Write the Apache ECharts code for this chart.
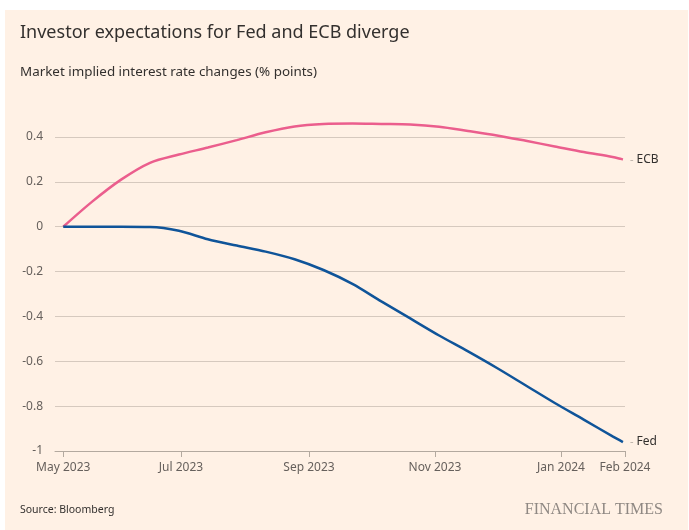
<!DOCTYPE html>
<html>
<head>
<meta charset="utf-8">
<title>Investor expectations for Fed and ECB diverge</title>
<script src="https://cdn.jsdelivr.net/npm/echarts@6/dist/echarts.min.js"></script>
<style>
  html, body { margin: 0; padding: 0; background: #fff; }
  #chart { width: 689px; height: 530px; }
</style>
</head>
<body>
<div id="chart"></div>
<script>
// fortnightly readings, YYYY-MM-DD; values in % points
const dates = ['2023-05-05', '2023-05-19', '2023-06-02', '2023-06-16', '2023-06-30', '2023-07-14',
  '2023-07-28', '2023-08-11', '2023-08-25', '2023-09-08', '2023-09-22', '2023-10-06', '2023-10-20',
  '2023-11-03', '2023-11-17', '2023-12-01', '2023-12-15', '2023-12-29', '2024-01-12', '2024-01-26',
  '2024-01-31'];
const ecbValues = [0, 0.112, 0.21, 0.285, 0.322, 0.353, 0.386, 0.421, 0.447, 0.458, 0.46, 0.458, 0.456,
  0.446, 0.427, 0.407, 0.383, 0.358, 0.333, 0.311, 0.300];
const fedValues = [0, 0, 0, -0.001, -0.018, -0.056, -0.084, -0.111, -0.145, -0.193, -0.255, -0.333, -0.409,
  -0.485, -0.556, -0.63, -0.708, -0.786, -0.86, -0.935, -0.96];

const tickDates = ['2023-05-05', '2023-07-01', '2023-09-01', '2023-11-01', '2024-01-01', '2024-02-01'];
const monthNames = ['Jan', 'Feb', 'Mar', 'Apr', 'May', 'Jun', 'Jul', 'Aug', 'Sep', 'Oct', 'Nov', 'Dec'];

const ts = (s) => {
  const [y, m, d] = s.split('-').map(Number);
  return new Date(y, m - 1, d).getTime();
};

const colors = {
  ecb: '#eb5e8d',
  fed: '#0f5499',
  text: '#33302e',
  axisText: '#66605c',
  grid: '#d6c9be',
  paper: '#fff1e5'
};

const chart = echarts.init(document.getElementById('chart'));

const endLabel = (name) => ({
  show: true,
  distance: 7,
  formatter: '{d|-} ' + name,
  color: colors.text,
  fontSize: 12,
  rich: { d: { color: '#b8aea5', fontSize: 11 } }
});

const option = {
  animation: false,
  backgroundColor: colors.paper,
  textStyle: { fontFamily: 'Noto Sans' },
  title: [
    {
      text: 'Investor expectations for Fed and ECB diverge',
      left: 20, top: 24, padding: 0,
      textStyle: { fontSize: 18, fontWeight: 'normal', color: colors.text, fontFamily: 'Noto Sans' }
    },
    {
      text: 'Market implied interest rate changes (% points)',
      left: 20, top: 66, padding: 0,
      textStyle: { fontSize: 13.4, fontWeight: 'normal', color: colors.text, fontFamily: 'Noto Sans' }
    },
    {
      text: 'Source: Bloomberg',
      left: 20, top: 505, padding: 0,
      textStyle: { fontSize: 10.5, fontWeight: 'normal', color: colors.text, fontFamily: 'Noto Sans' }
    },
    {
      text: 'FINANCIAL TIMES',
      right: 26, top: 502, padding: 0,
      textStyle: { fontSize: 16, fontWeight: 'normal', color: '#8f8883', fontFamily: 'Liberation Serif' }
    }
  ],
  graphic: [
    // white margins around the paper panel
    { type: 'rect', shape: { x: 0, y: 0, width: 689, height: 10 }, style: { fill: '#fff' }, silent: true },
    { type: 'rect', shape: { x: 0, y: 0, width: 5, height: 530 }, style: { fill: '#fff' }, silent: true },
    { type: 'rect', shape: { x: 688, y: 0, width: 1, height: 530 }, style: { fill: '#fff' }, silent: true }
  ],
  grid: { left: 55, right: 64, top: 137, bottom: 79 },
  xAxis: {
    // timestamps on a value axis so ticks can sit on chosen dates
    type: 'value',
    min: ts('2023-05-01'),
    max: ts('2024-02-01'),
    axisLine: { onZero: false, lineStyle: { color: '#b3a99f', width: 1 } },
    axisTick: {
      customValues: tickDates.map(ts),
      length: 6,
      lineStyle: { color: '#b3a99f' }
    },
    axisLabel: {
      customValues: tickDates.map(ts),
      color: colors.axisText,
      fontSize: 12,
      margin: 11,
      hideOverlap: false,
      formatter: (v) => {
        const d = new Date(v);
        return monthNames[d.getMonth()] + ' ' + d.getFullYear();
      }
    },
    splitLine: { show: false }
  },
  yAxis: {
    type: 'value',
    min: -1,
    max: 0.4,
    interval: 0.2,
    axisLine: { show: false },
    axisTick: { show: false },
    axisLabel: {
      color: colors.axisText,
      fontSize: 12,
      margin: 12,
      formatter: (v) => String(Math.round(v * 10) / 10)
    },
    splitLine: { lineStyle: { color: colors.grid, width: 1 } }
  },
  series: [
    {
      name: 'ECB',
      type: 'line',
      data: dates.map((d, i) => [ts(d), ecbValues[i]]),
      smooth: 0.3,
      showSymbol: false,
      clip: false,
      lineStyle: { color: colors.ecb, width: 2.5 },
      itemStyle: { color: colors.ecb },
      endLabel: endLabel('ECB')
    },
    {
      name: 'Fed',
      type: 'line',
      data: dates.map((d, i) => [ts(d), fedValues[i]]),
      smooth: 0.3,
      showSymbol: false,
      clip: false,
      lineStyle: { color: colors.fed, width: 2.5 },
      itemStyle: { color: colors.fed },
      endLabel: endLabel('Fed')
    }
  ]
};

chart.setOption(option);
</script>
</body>
</html>
